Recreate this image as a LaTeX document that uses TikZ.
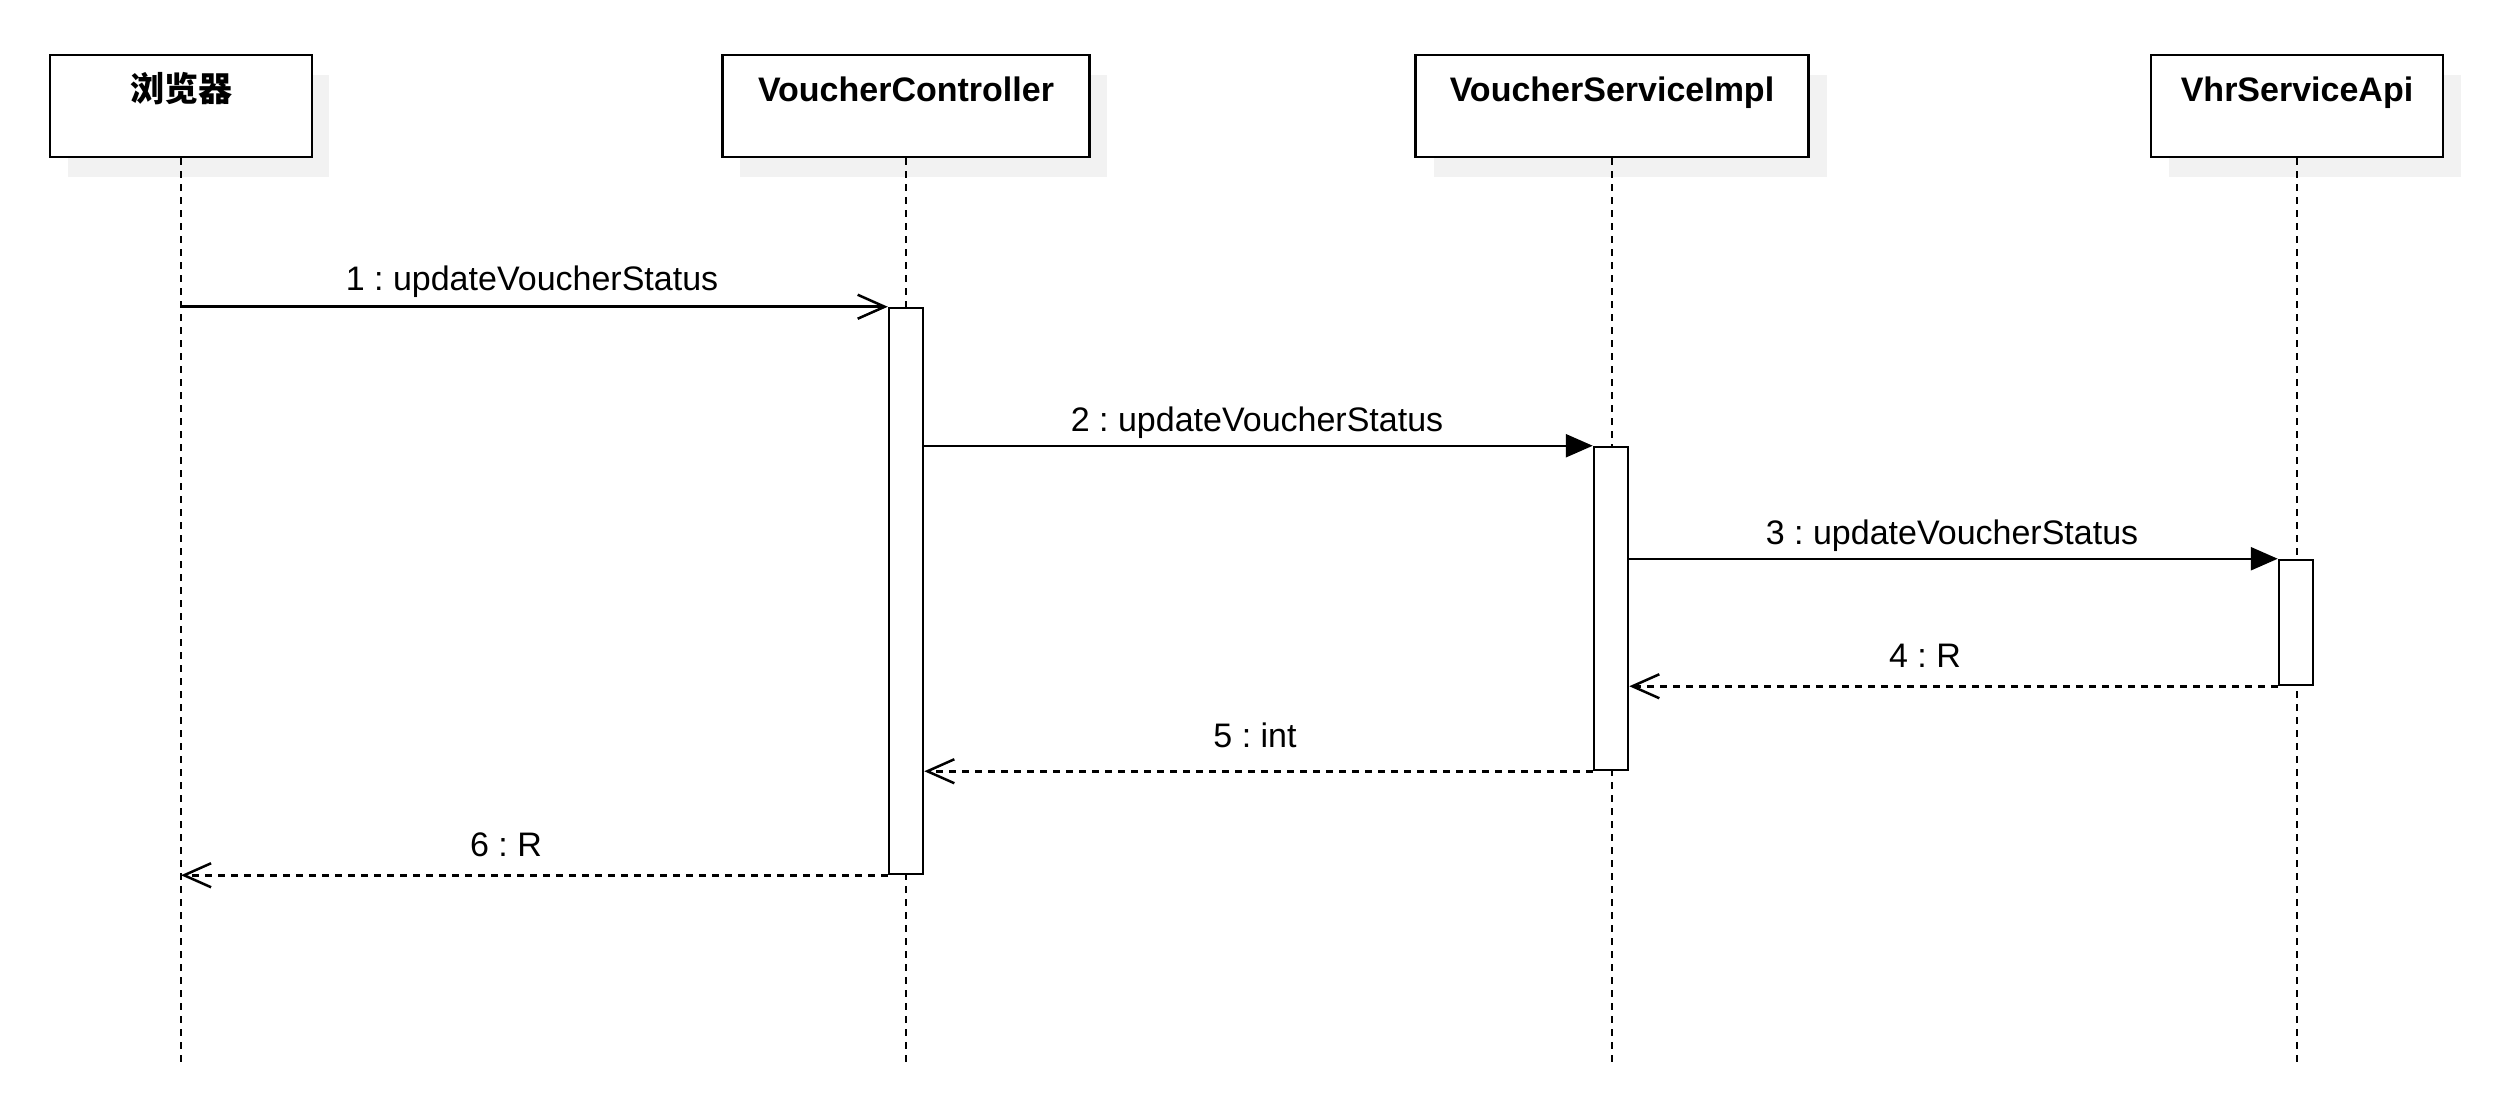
\documentclass[tikz,border=0pt]{standalone}
\usepackage{fontspec}
\setmainfont{Liberation Sans}
\newfontfamily\cjk{Noto Sans CJK SC}
\usetikzlibrary{arrows.meta}
\frenchspacing
\begin{document}
\begin{tikzpicture}[x=0.5pt,y=-0.5pt,
  font=\fontsize{17pt}{20pt}\selectfont,
  head/.style={draw,line width=1.35pt,fill=white,minimum height=51pt,inner sep=0pt},
  title/.style={anchor=base,font=\fontsize{17pt}{20pt}\selectfont\bfseries},
  life/.style={line width=1.25pt,dash pattern=on 3.5pt off 3pt},
  act/.style={draw,line width=1.25pt,fill=white,minimum width=17pt,inner sep=0pt},
  call/.style={line width=1.25pt,-{Triangle[length=13.5pt,width=11.5pt]}},
  first/.style={line width=1.25pt,-{Straight Barb[length=13.5pt,width=12pt,line width=1.25pt]}},
  reply/.style={line width=1.25pt,dash pattern=on 3.5pt off 3pt,-{Straight Barb[length=13.5pt,width=12pt,line width=1.25pt]}},
  msg/.style={anchor=base}]
\useasboundingbox (0,0) rectangle (2504,1096);

% shadows behind the participant boxes
\fill[black!5] (68,75) rectangle (329,177);
\fill[black!5] (740,75) rectangle (1107,177);
\fill[black!5] (1434,75) rectangle (1827,177);
\fill[black!5] (2169,75) rectangle (2461,177);

% participants
\node[head,minimum width=131pt] (browser) at (181,106) {};
\node[head,minimum width=183.5pt] (ctrl) at (906,106) {};
\node[head,minimum width=196.5pt] (svc) at (1612,106) {};
\node[head,minimum width=146pt] (api) at (2297,106) {};

\node[title] (browserT) at (181,102) {\cjk\bfseries 浏览器};
\node[title] (ctrlT) at (906,102) {VoucherController};
\node[title] (svcT) at (1612,102) {VoucherServiceImpl};
\node[title] (apiT) at (2297,102) {VhrServiceApi};

% lifeline ends
\coordinate (browserE) at (181,1062);
\coordinate (ctrlE) at (906,1062);
\coordinate (svcE) at (1612,1062);
\coordinate (apiE) at (2297,1062);

\draw[life] (browser.south) -- (browserE);
\draw[life] (ctrl.south) -- (ctrlE);
\draw[life] (svc.south) -- (svcE);
\draw[life] (api.south) -- (apiE);

% activation bars
\node[act,minimum height=283pt] (a1) at (906,591) {};
\node[act,minimum height=161.5pt] (a2) at (1611,608.5) {};
\node[act,minimum height=62.5pt] (a3) at (2296,622.5) {};

% messages
\draw[first] (browser.south |- a1.north) -- (a1.north west);
\draw[call] (a1.east |- a2.north) -- (a2.north west);
\draw[call] (a2.east |- a3.north) -- (a3.north west);
\draw[reply] (a3.south west) -- (a2.east |- a3.south);
\draw[reply] (a2.south west) -- (a1.east |- a2.south);
\draw[reply] (a1.south west) -- (browser.south |- a1.south);

\node[msg] (m1) at (532,291) {1 : updateVoucherStatus};
\node[msg] (m2) at (1257,431) {2 : updateVoucherStatus};
\node[msg] (m3) at (1952,544) {3 : updateVoucherStatus};
\node[msg] (m4) at (1925,667) {4 : R};
\node[msg] (m5) at (1255,747) {5 : int};
\node[msg] (m6) at (506,856) {6 : R};
\end{tikzpicture}
\end{document}
